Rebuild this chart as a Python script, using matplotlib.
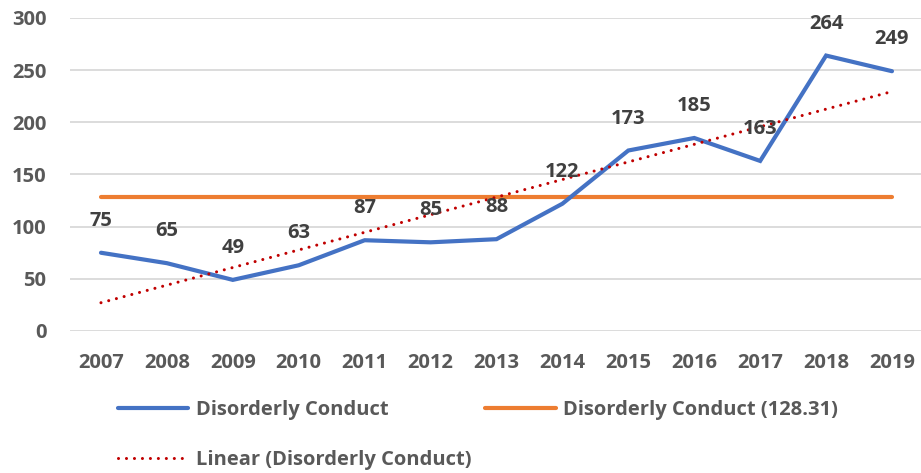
import numpy as np
import matplotlib.pyplot as plt
from matplotlib.lines import Line2D

years = ['2007', '2008', '2009', '2010', '2011', '2012', '2013',
         '2014', '2015', '2016', '2017', '2018', '2019']
conduct = [75, 65, 49, 63, 87, 85, 88, 122, 173, 185, 163, 264, 249]
y_ticks = [0, 50, 100, 150, 200, 250, 300]

plt.rcParams['font.family'] = ['Open Sans', 'DejaVu Sans']
plt.rcParams['font.weight'] = 'bold'

x = np.arange(len(years))
mean = np.mean(conduct)
slope, icpt = np.polyfit(x, conduct, 1)

fig = plt.figure(figsize=(9.21, 4.73), dpi=100)
ax = fig.add_axes([70 / 921, (473 - 331) / 473, 851 / 921, 313 / 473])

dots = (0, (0.01, 2.6))
ax.plot(x, conduct, color='#4472C4', lw=3.0, solid_capstyle='round',
        solid_joinstyle='miter', zorder=3)
ax.plot(x, [mean] * len(x), color='#ED7D31', lw=3.0,
        solid_capstyle='round', zorder=2)
ax.plot(x, slope * x + icpt, color='#C00000', lw=2.2,
        linestyle=dots, dash_capstyle='round', zorder=4)

for xi, v in zip(x, conduct):
    ax.annotate(str(v), (xi, v), xytext=(0, 23), textcoords='offset points',
                ha='center', va='center', fontsize=14.5, fontweight='bold',
                color='#404040', zorder=5)

ax.set_xlim(-0.47, 12.44)
ax.set_ylim(0, 300)
ax.set_yticks(y_ticks)
ax.set_xticks(x)
ax.set_xticklabels(years)
ax.grid(axis='y', color='#D9D9D9', lw=1.3)
ax.set_axisbelow(True)
for s in ax.spines.values():
    s.set_visible(False)
ax.tick_params(length=0, labelsize=14.5, labelcolor='#595959')
ax.tick_params(axis='x', pad=16)
ax.tick_params(axis='y', pad=17)

handles = [
    Line2D([], [], color='#4472C4', lw=3.0, solid_capstyle='round'),
    Line2D([], [], color='#C00000', lw=2.2, linestyle=dots,
           dash_capstyle='round'),
    Line2D([], [], color='#ED7D31', lw=3.0, solid_capstyle='round'),
]
labels = ['Disorderly Conduct', 'Linear (Disorderly Conduct)',
          'Disorderly Conduct (128.31)']
leg = fig.legend(handles, labels, loc='upper left',
                 bbox_to_anchor=(118 / 921, (473 - 400) / 473), ncol=2,
                 frameon=False, borderpad=0, borderaxespad=0,
                 handlelength=3.5, handletextpad=0.35, columnspacing=0.7,
                 labelspacing=1.5, prop={'size': 14.5, 'weight': 'bold'})
for t in leg.get_texts():
    t.set_color('#595959')

fig.savefig('out.png', dpi=100)
